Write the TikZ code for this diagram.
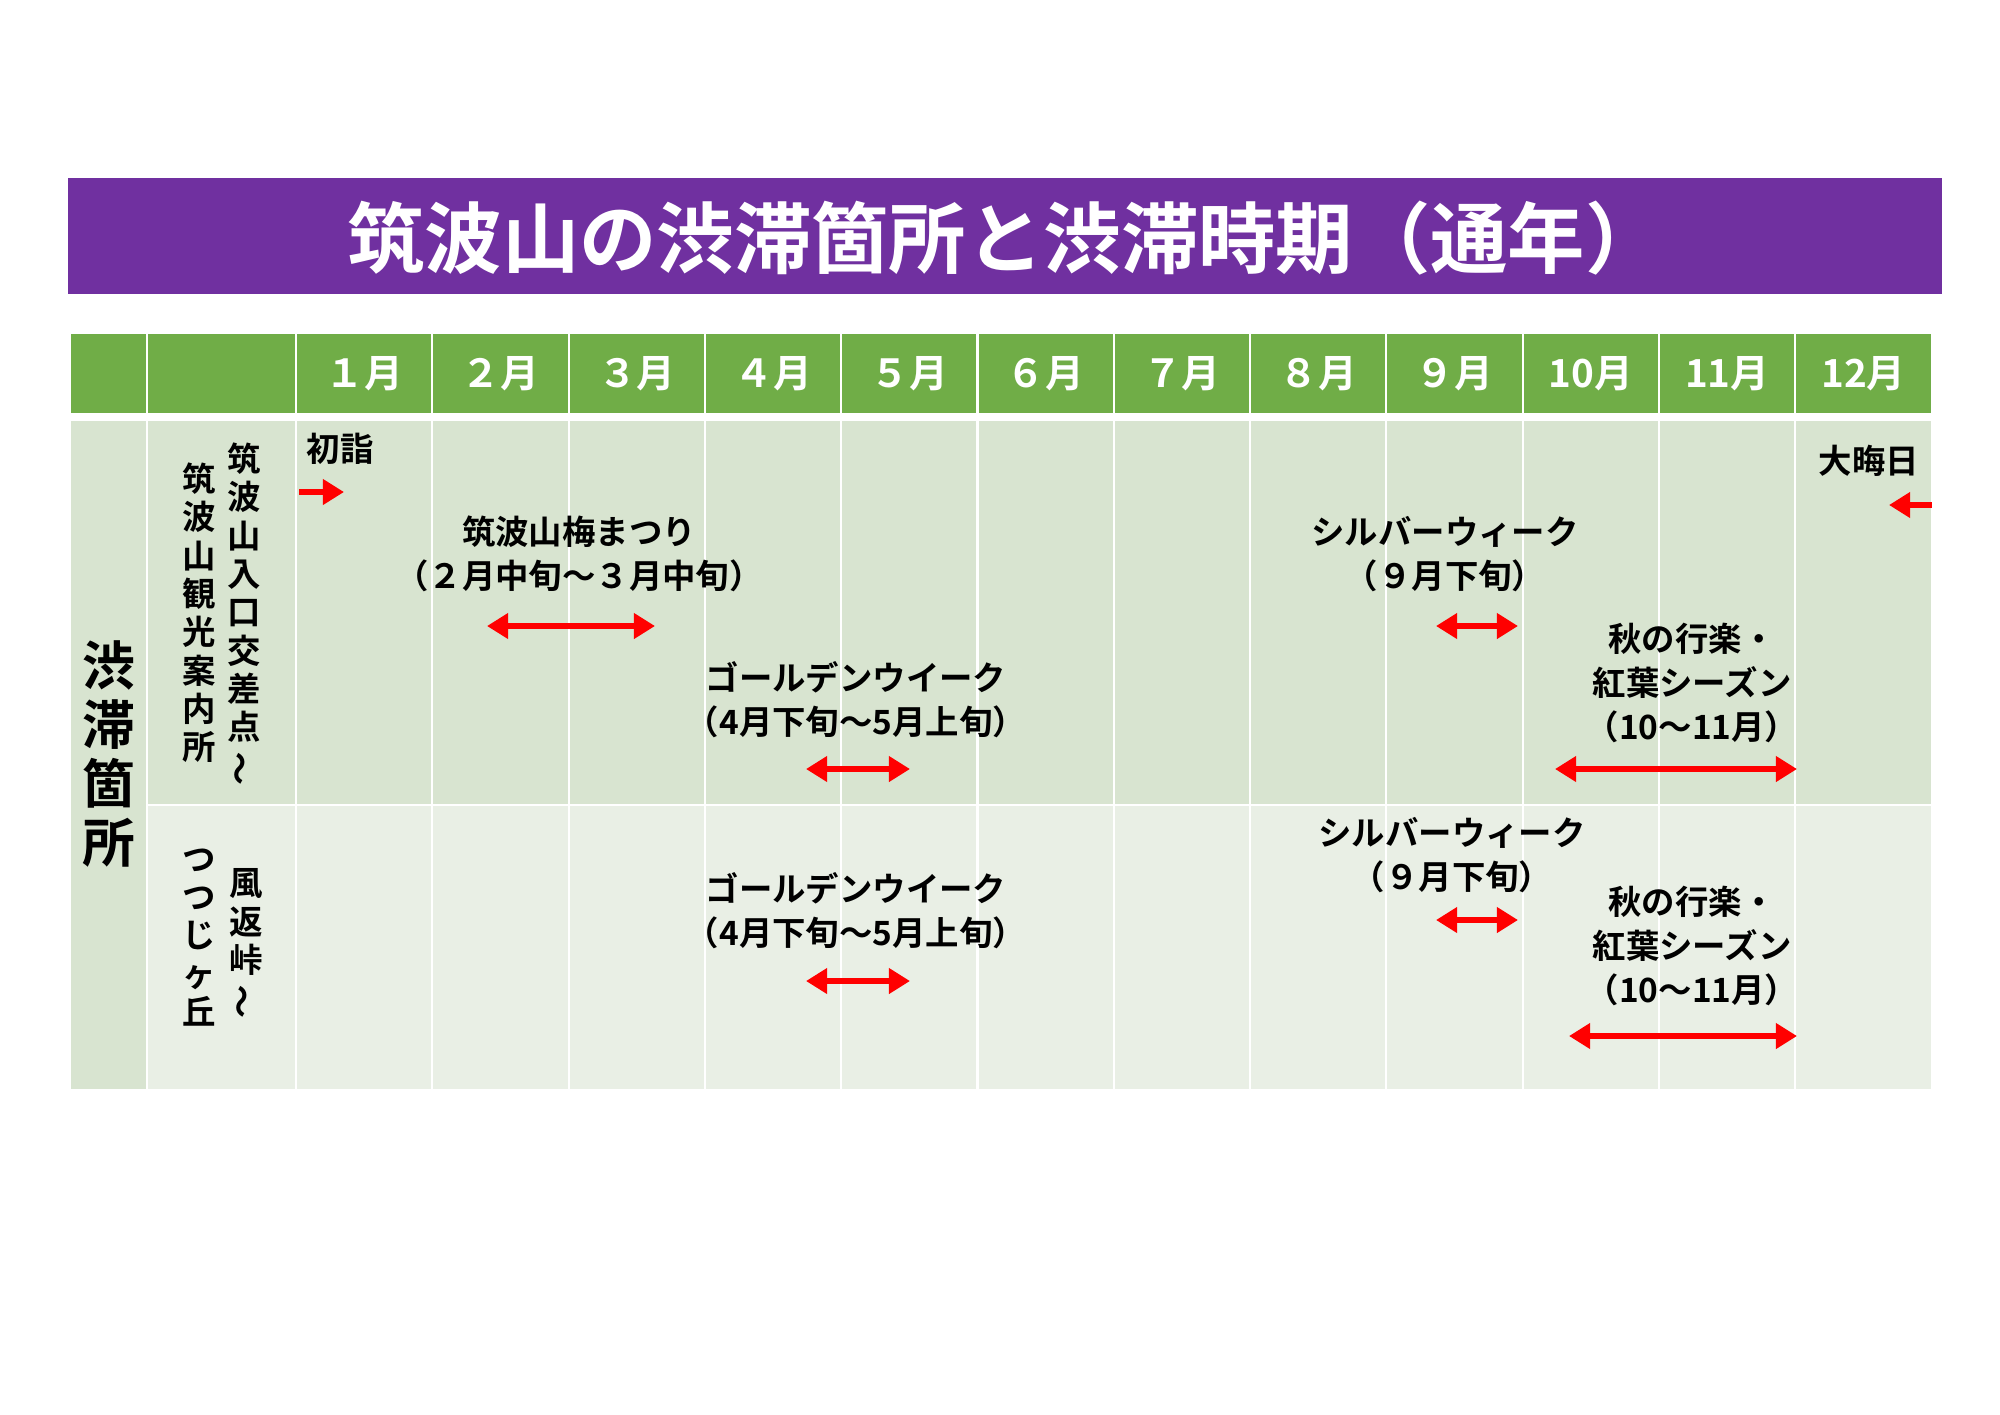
\documentclass[tikz,border=0pt]{standalone}
\usepackage{fontspec}
\setmainfont{Noto Sans CJK JP}[BoldFont=* Bold]
\usetikzlibrary{arrows.meta}
\definecolor{titlepurple}{HTML}{7030A0}
\definecolor{headgreen}{HTML}{70AD47}
\definecolor{rowone}{HTML}{D8E4D0}
\definecolor{rowtwo}{HTML}{E9EFE5}
\tikzset{
  cell/.style={draw=white, line width=0.6pt},
  month/.style={text=white, font=\fontsize{11}{13}\selectfont\bfseries},
  event/.style={font=\fontsize{9.5}{12.5}\selectfont\bfseries, align=center, inner sep=0pt},
  vlabel/.style={font=\fontsize{9.5}{10.9}\selectfont\bfseries, align=center, inner sep=0pt, anchor=north},
  jam/.style={red, line width=1.8pt, -{Triangle[length=6pt,width=7pt]}},
  jamboth/.style={jam, {Triangle[length=6pt,width=7pt]}-{Triangle[length=6pt,width=7pt]}},
}
\newcommand{\vwave}{\rotatebox[origin=c]{90}{～}}
\begin{document}
\begin{tikzpicture}[x=0.01cm, y=-0.01cm]
    \useasboundingbox[fill=white] (0,0) rectangle (2000,1414);

    % Title bar
    \fill[titlepurple] (68,178) rectangle (1942,294);
    \node[text=white, font=\fontsize{22}{26}\selectfont\bfseries] (title) at (1005,238) {筑波山の渋滞箇所と渋滞時期（通年）};

    % Header row
    \fill[headgreen, cell] (70,333) rectangle (147,414);
    \fill[headgreen, cell] (147,333) rectangle (296,414);
    \foreach \m in {1,...,12} {
        \fill[headgreen, cell] ({296+(\m-1)*136.3},333) rectangle ({296+\m*136.3},414);
    }
    \foreach \m/\lab in {1/１月,2/２月,3/３月,4/４月,5/５月,6/６月,7/７月,8/８月,9/９月,10/10月,11/11月,12/12月} {
        \node[month] (m\m) at ({296+(\m-0.5)*136.3},374) {\lab};
    }

    % Body rows
    \fill[rowone, cell] (70,420) rectangle (147,1090);
    \fill[rowone, cell] (147,420) rectangle (296,805);
    \fill[rowtwo, cell] (147,805) rectangle (296,1090);
    \foreach \m in {1,...,12} {
        \fill[rowone, cell] ({296+(\m-1)*136.3},420) rectangle ({296+\m*136.3},805);
        \fill[rowtwo, cell] ({296+(\m-1)*136.3},805) rectangle ({296+\m*136.3},1090);
    }

    % Row labels
    \node[font=\fontsize{15}{16.8}\selectfont\bfseries, align=center, inner sep=0pt] (place) at (109,754) {渋\\滞\\箇\\所};
    \node[vlabel] (placeAa) at (244,442) {筑\\波\\山\\入\\口\\交\\差\\点\\\vwave};
    \node[vlabel] (placeAb) at (199,462) {筑\\波\\山\\観\\光\\案\\内\\所};
    \node[vlabel] (placeBa) at (246,868) {風\\返\\峠\\\vwave};
    \node[vlabel] (placeBb) at (199,848) {つ\\つ\\じ\\ヶ\\丘};

    % Row 1 events
    \node[event] (hatsu) at (340,449) {初詣};
    \coordinate (hatsuS) at (299,492);
    \coordinate (hatsuE) at (344,492);
    \draw[jam] (hatsuS) -- (hatsuE);

    \node[event] (omi) at (1869,461) {大晦日};
    \coordinate (omiS) at (1932,505);
    \coordinate (omiE) at (1889,505);
    \draw[jam] (omiS) -- (omiE);

    \node[event] (ume) at (579,554) {筑波山梅まつり\\（２月中旬～３月中旬）};
    \coordinate (umeS) at (487,626);
    \coordinate (umeE) at (655,626);
    \draw[jamboth] (umeS) -- (umeE);

    \node[event] (gwA) at (856,700) {ゴールデンウイーク\\（4月下旬～5月上旬）};
    \coordinate (gwAS) at (806,769);
    \coordinate (gwAE) at (910,769);
    \draw[jamboth] (gwAS) -- (gwAE);

    \node[event] (swA) at (1445,554) {シルバーウィーク\\（９月下旬）};
    \coordinate (swAS) at (1436,626);
    \coordinate (swAE) at (1518,626);
    \draw[jamboth] (swAS) -- (swAE);

    \node[event] (akiA) at (1692,683) {秋の行楽・\\紅葉シーズン\\（10～11月）};
    \coordinate (akiAS) at (1555,769);
    \coordinate (akiAE) at (1797,769);
    \draw[jamboth] (akiAS) -- (akiAE);

    % Row 2 events
    \node[event] (swB) at (1452,855) {シルバーウィーク\\（９月下旬）};
    \coordinate (swBS) at (1436,920);
    \coordinate (swBE) at (1518,920);
    \draw[jamboth] (swBS) -- (swBE);

    \node[event] (gwB) at (856,911) {ゴールデンウイーク\\（4月下旬～5月上旬）};
    \coordinate (gwBS) at (806,981);
    \coordinate (gwBE) at (910,981);
    \draw[jamboth] (gwBS) -- (gwBE);

    \node[event] (akiB) at (1692,946) {秋の行楽・\\紅葉シーズン\\（10～11月）};
    \coordinate (akiBS) at (1569,1036);
    \coordinate (akiBE) at (1797,1036);
    \draw[jamboth] (akiBS) -- (akiBE);
\end{tikzpicture}
\end{document}
